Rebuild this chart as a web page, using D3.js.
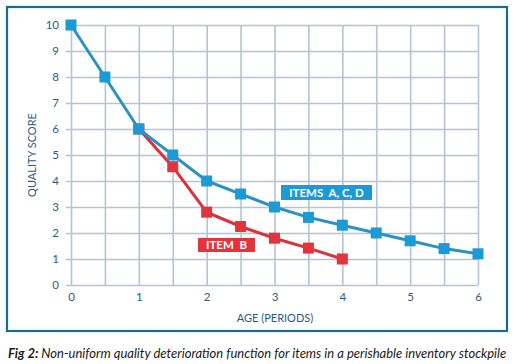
<!DOCTYPE html>
<html><head><meta charset="utf-8">
<script src="https://cdn.jsdelivr.net/npm/d3@7/dist/d3.min.js"></script>
<style>body{margin:0;background:#fff}svg{display:block}</style>
</head><body>
<script>
const agesAll = [0,0.5,1,1.5,2,2.5,3,3.5,4,4.5,5,5.5,6];
const scoresACD = [10,8,6,5,4,3.5,3,2.6,2.3,2,1.7,1.4,1.2];
const agesB = [1,1.5,2,2.5,3,3.5,4];
const scoresB = [6,4.55,2.8,2.25,1.8,1.42,1];
const xTicks = [0,1,2,3,4,5,6];
const xTickLabels = ["0","1","2","3","4","5","6"];
const yTicks = [0,1,2,3,4,5,6,7,8,9,10];
const seriesLabels = ["ITEMS  A, C, D","ITEM  B"];

const W=516,H=364;
const svg=d3.select("body").append("svg").attr("width",W).attr("height",H);
svg.append("rect").attr("x",7).attr("y",7).attr("width",500).attr("height",324)
  .attr("fill","#fff").attr("stroke","#1d6a8f").attr("stroke-width",2.2);

const x=d3.scaleLinear().domain([0,6]).range([71,478]);
const y=d3.scaleLinear().domain([0,10]).range([285,25]);
const grid="#b4c3d5", txt="#2a5d86", font="Lato, 'Open Sans', sans-serif";

const xGrid=d3.range(0,6.01,0.5);
svg.append("g").attr("transform","translate(0,285)")
  .call(d3.axisBottom(x).tickValues(xGrid).tickSize(-260).tickFormat(""))
  .call(g=>{g.select(".domain").remove();g.selectAll("line").attr("stroke",grid).attr("stroke-width",1.6);});
svg.append("g").attr("transform","translate(478,0)")
  .call(d3.axisLeft(y).tickValues(yTicks).tickSize(412).tickFormat(""))
  .call(g=>{g.select(".domain").remove();g.selectAll("line").attr("stroke",grid).attr("stroke-width",1.6);});

svg.append("g").attr("transform","translate(59,0)")
  .call(d3.axisLeft(y).tickValues(yTicks).tickSize(0).tickPadding(0))
  .call(g=>{g.select(".domain").remove();g.selectAll("text").attr("fill",txt).attr("font-family",font).attr("font-size",11.5);});
svg.append("g").attr("transform","translate(0,293)")
  .call(d3.axisBottom(x).tickValues(xTicks).tickSize(0).tickPadding(0).tickFormat((d,i)=>xTickLabels[i]))
  .call(g=>{g.select(".domain").remove();g.selectAll("text").attr("fill",txt).attr("font-family",font).attr("font-size",11.5);});

svg.append("text").attr("transform","translate(36,155) rotate(-90)").attr("text-anchor","middle")
  .attr("fill",txt).attr("font-family",font).attr("font-size",11).text("QUALITY SCORE");
svg.append("text").attr("x",275).attr("y",322).attr("text-anchor","middle")
  .attr("fill",txt).attr("font-family",font).attr("font-size",11).text("AGE (PERIODS)");

function drawSeries(ages,vals,color,mcolor){
  const pts=ages.map((a,i)=>[a,vals[i]]);
  svg.append("path").datum(pts).attr("fill","none").attr("stroke",color).attr("stroke-width",3)
    .attr("d",d3.line().x(d=>x(d[0])).y(d=>y(d[1])));
  svg.append("g").selectAll("rect").data(pts).join("rect")
    .attr("x",d=>x(d[0])-5.5).attr("y",d=>y(d[1])-5.5).attr("width",11).attr("height",11).attr("fill",mcolor);
}
drawSeries(agesB,scoresB,"#d8333a","#e3343c");
drawSeries(agesAll,scoresACD,"#2a92c4","#1b9ad6");

function label(t,x0,y0,w,h,c){
  svg.append("rect").attr("x",x0).attr("y",y0).attr("width",w).attr("height",h).attr("fill",c);
  svg.append("text").attr("x",x0+w/2).attr("y",y0+h/2+4).attr("text-anchor","middle").attr("fill","#fff")
    .attr("font-family",font).attr("font-weight","bold").attr("font-size",11.5).attr("xml:space","preserve")
    .style("white-space","pre").text(t);
}
label(seriesLabels[0],281,185,91,15,"#1b9ad6");
label(seriesLabels[1],198,238,57,14,"#e3343c");

const cap=svg.append("text").attr("x",8).attr("y",358).attr("font-family",font).attr("font-style","italic")
  .attr("font-size",13).attr("fill","#1a1a1a");
cap.append("tspan").attr("font-weight","bold").text("Fig 2:");
cap.append("tspan").text(" Non-uniform quality deterioration function for items in a perishable inventory stockpile");
</script>
</body></html>
